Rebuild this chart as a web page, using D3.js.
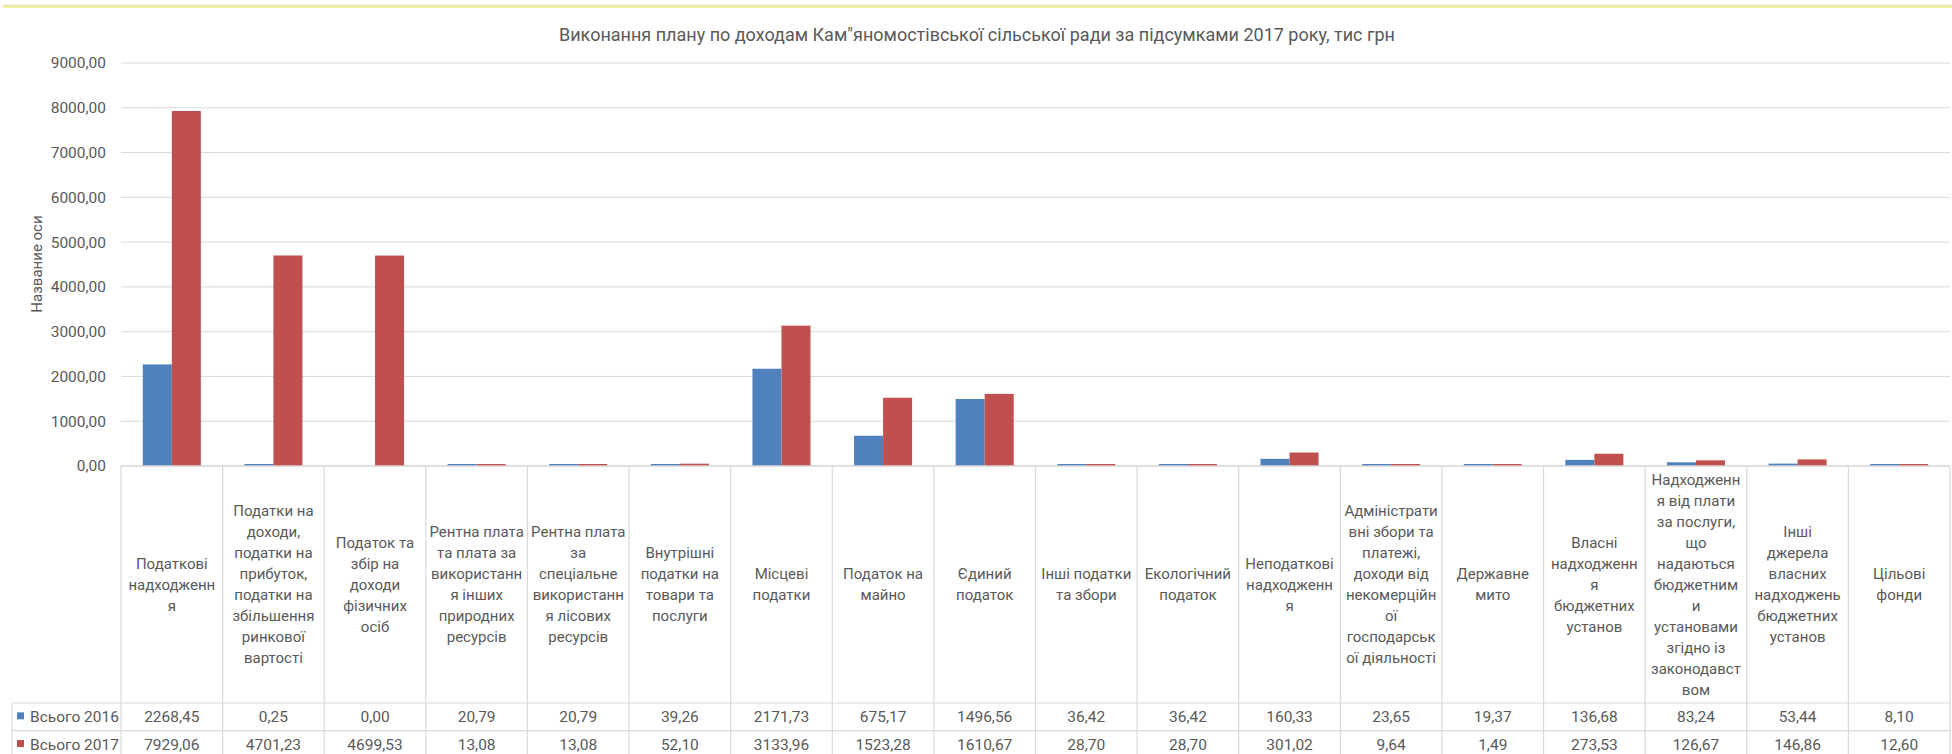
<!DOCTYPE html>
<html>
<head>
<meta charset="utf-8">
<script src="https://cdn.jsdelivr.net/npm/d3@7"></script>
<style>
  html, body { margin: 0; padding: 0; background: #fff; }
  svg { display: block; }
  text { font-family: Roboto, "Noto Sans", sans-serif; fill: #595959; }
</style>
</head>
<body>
<svg id="chart" width="1952" height="754"></svg>
<script>
// ---- DATA ----
const title = 'Виконання плану по доходам Кам"яномостівської сільської ради за підсумками 2017 року, тис грн';
const yAxisTitle = "Название оси";
const categories = [
  "Податкові\nнадходженн\nя",
  "Податки на\nдоходи,\nподатки на\nприбуток,\nподатки на\nзбільшення\nринкової\nвартості",
  "Податок та\nзбір на\nдоходи\nфізичних\nосіб",
  "Рентна плата\nта плата за\nвикористанн\nя інших\nприродних\nресурсів",
  "Рентна плата\nза\nспеціальне\nвикористанн\nя лісових\nресурсів",
  "Внутрішні\nподатки на\nтовари та\nпослуги",
  "Місцеві\nподатки",
  "Податок на\nмайно",
  "Єдиний\nподаток",
  "Інші податки\nта збори",
  "Екологічний\nподаток",
  "Неподаткові\nнадходженн\nя",
  "Адміністрати\nвні збори та\nплатежі,\nдоходи від\nнекомерційн\nої\nгосподарськ\nої діяльності",
  "Державне\nмито",
  "Власні\nнадходженн\nя\nбюджетних\nустанов",
  "Надходженн\nя від плати\nза послуги,\nщо\nнадаються\nбюджетним\nи\nустановами\nзгідно із\nзаконодавст\nвом",
  "Інші\nджерела\nвласних\nнадходжень\nбюджетних\nустанов",
  "Цільові\nфонди"
];
const seriesNames = ["Всього 2016", "Всього 2017"];
const values2016 = [2268.45, 0.25, 0.00, 20.79, 20.79, 39.26, 2171.73, 675.17, 1496.56, 36.42, 36.42, 160.33, 23.65, 19.37, 136.68, 83.24, 53.44, 8.10];
const values2017 = [7929.06, 4701.23, 4699.53, 13.08, 13.08, 52.10, 3133.96, 1523.28, 1610.67, 28.70, 28.70, 301.02, 9.64, 1.49, 273.53, 126.67, 146.86, 12.60];
const yTicks = [0, 1000, 2000, 3000, 4000, 5000, 6000, 7000, 8000, 9000];
const colors = ["#4F81BD", "#C0504D"];

// ---- LAYOUT ----
const svg = d3.select("#chart");
const plotLeft = 121, plotRight = 1950, plotTop = 63, plotBottom = 466;
const headerBottom = 703, rowH = 27.7;
const tableLeft = 12;
const series = [values2016, values2017];
const fmt = v => d3.format(".2f")(v).replace(".", ",");

// top frame line (yellow selection border)
svg.append("line").attr("x1", 3).attr("x2", 1952).attr("y1", 5).attr("y2", 5)
  .attr("stroke", "#dedede").attr("stroke-width", 1);
svg.append("line").attr("x1", 3).attr("x2", 1952).attr("y1", 6.5).attr("y2", 6.5)
  .attr("stroke", "#e9e57c").attr("stroke-width", 2);

const x = d3.scaleBand().domain(d3.range(categories.length)).range([plotLeft, plotRight]).paddingInner(0).paddingOuter(0);
const y = d3.scaleLinear().domain([0, 9000]).range([plotBottom, plotTop]);
const barW = x.bandwidth() / 3.5;
const xs = d3.scaleBand().domain([0, 1]).range([0, barW * 2]);

// gridlines
svg.append("g").selectAll("line").data(yTicks.filter(t => t > 0)).join("line")
  .attr("x1", plotLeft).attr("x2", plotRight)
  .attr("y1", d => y(d)).attr("y2", d => y(d))
  .attr("stroke", "#d9d9d9").attr("stroke-width", 1);

// y axis labels
const yAxis = d3.axisLeft(y).tickValues(yTicks).tickFormat(fmt).tickSize(0).tickPadding(15);
const ya = svg.append("g").attr("transform", `translate(${plotLeft},0)`).call(yAxis);
ya.select(".domain").remove();
ya.selectAll("text").style("font-size", "15.5px").attr("fill", "#595959")
  .style("font-family", "Roboto, 'Noto Sans', sans-serif");

// bars
series.forEach((vals, si) => {
  svg.append("g").selectAll("rect").data(vals).join("rect")
    .attr("x", (d, i) => x(i) + (x.bandwidth() - barW * 2) / 2 + xs(si))
    .attr("width", barW)
    .attr("y", d => Math.min(y(d), d > 0 ? plotBottom - 2 : plotBottom))
    .attr("height", d => d > 0 ? Math.max(plotBottom - y(d), 2) : 0)
    .attr("fill", colors[si]);
});

// table lines
const g = svg.append("g").attr("stroke", "#d9d9d9").attr("stroke-width", 1.2);
const tableBottom = headerBottom + rowH * 2;
g.append("line").attr("x1", plotLeft).attr("x2", plotRight).attr("y1", plotBottom).attr("y2", plotBottom)
  .attr("stroke", "#d4d4d4").attr("stroke-width", 1.6);
const boundaries = d3.range(categories.length + 1).map(i => i < categories.length ? x(i) : plotRight);
g.selectAll(".v").data(boundaries).join("line")
  .attr("x1", d => d).attr("x2", d => d).attr("y1", plotBottom).attr("y2", tableBottom);
[headerBottom, headerBottom + rowH, tableBottom].forEach(yy => {
  g.append("line").attr("x1", tableLeft).attr("x2", plotRight).attr("y1", yy).attr("y2", yy);
});
g.append("line").attr("x1", tableLeft).attr("x2", tableLeft).attr("y1", headerBottom).attr("y2", tableBottom);

// category header labels
const lineH = 21;
const headerMid = (plotBottom + headerBottom) / 2;
categories.forEach((c, i) => {
  const lines = c.split("\n");
  const t = svg.append("text").attr("text-anchor", "middle")
    .style("font-size", "15px");
  const startY = headerMid - (lines.length - 1) * lineH / 2;
  lines.forEach((ln, k) => {
    t.append("tspan").attr("x", x(i) + x.bandwidth() / 2).attr("y", startY + k * lineH)
      .attr("dy", "0.35em").text(ln);
  });
});

// data rows
series.forEach((vals, si) => {
  const cy = headerBottom + rowH * si + rowH / 2;
  svg.append("rect").attr("x", 17).attr("y", cy - 4.5).attr("width", 7).attr("height", 7).attr("fill", colors[si]);
  svg.append("text").attr("x", 30).attr("y", cy).attr("dy", "0.35em")
    .style("font-size", "15.5px").text(seriesNames[si]);
  svg.append("g").selectAll("text").data(vals).join("text")
    .attr("x", (d, i) => x(i) + x.bandwidth() / 2).attr("y", cy).attr("dy", "0.35em")
    .attr("text-anchor", "middle").style("font-size", "15.5px").text(d => fmt(d));
});

// title
svg.append("text").attr("x", 977).attr("y", 35).attr("dy", "0.35em").attr("text-anchor", "middle")
  .style("font-size", "18px").text(title);

// y axis title
svg.append("text").attr("transform", "translate(37,264) rotate(-90)").attr("text-anchor", "middle")
  .attr("dy", "0.35em").style("font-size", "15px").text(yAxisTitle);
</script>
</body>
</html>
